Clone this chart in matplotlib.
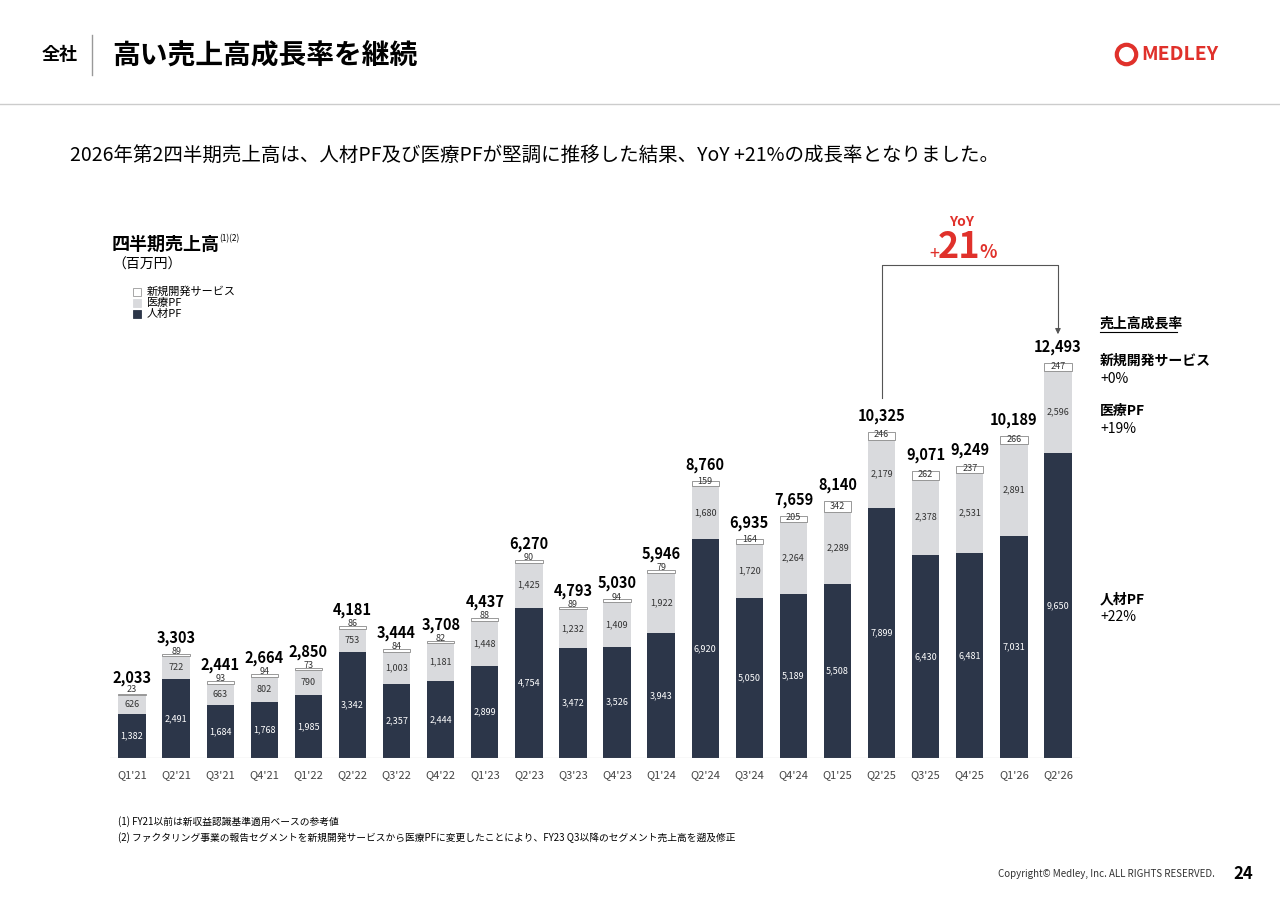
import matplotlib
matplotlib.use("Agg")
import matplotlib.pyplot as plt
from matplotlib.patches import Rectangle

plt.rcParams['font.family'] = ['Noto Sans CJK JP', 'DejaVu Sans']

quarters = ["Q1'21", "Q2'21", "Q3'21", "Q4'21", "Q1'22", "Q2'22", "Q3'22", "Q4'22",
            "Q1'23", "Q2'23", "Q3'23", "Q4'23", "Q1'24", "Q2'24", "Q3'24", "Q4'24",
            "Q1'25", "Q2'25", "Q3'25", "Q4'25", "Q1'26", "Q2'26"]
jinzai = [1382, 2491, 1684, 1768, 1985, 3342, 2357, 2444, 2899, 4754, 3472, 3526,
          3943, 6920, 5050, 5189, 5508, 7899, 6430, 6481, 7031, 9650]
iryo = [626, 722, 663, 802, 790, 753, 1003, 1181, 1448, 1425, 1232, 1409,
        1922, 1680, 1720, 2264, 2289, 2179, 2378, 2531, 2891, 2596]
shinki = [23, 89, 93, 94, 73, 86, 84, 82, 88, 90, 89, 94,
          79, 159, 164, 205, 342, 246, 262, 237, 266, 247]
totals = [2033, 3303, 2441, 2664, 2850, 4181, 3444, 3708, 4437, 6270, 4793, 5030,
          5946, 8760, 6935, 7659, 8140, 10325, 9071, 9249, 10189, 12493]

NAVY = "#2c3649"
GRAY = "#d9dadd"
RED = "#e0312b"
W, H = 1280, 905

fig = plt.figure(figsize=(12.8, 9.05), dpi=100)

# header
fig.text(60 / W, 1 - 55 / H, "全社", fontsize=13, fontweight="bold", ha="center", va="center")
fig.add_artist(plt.Line2D([92 / W, 92 / W], [1 - 35 / H, 1 - 75 / H], color="#999999", lw=1))
fig.text(112 / W, 1 - 55 / H, "高い売上高成長率を継続", fontsize=20, fontweight="bold", va="center")
fig.add_artist(plt.Line2D([1126 / W], [1 - 54 / H], marker="o", markersize=14, markerfacecolor="none",
                          markeredgecolor=RED, markeredgewidth=3))
fig.text(1141 / W, 1 - 54 / H, "MEDLEY", fontsize=14, fontweight="bold", color=RED, va="center")
fig.add_artist(plt.Line2D([0, 1], [1 - 104 / H, 1 - 104 / H], color="#cccccc", lw=1))
fig.text(70 / W, 1 - 155 / H, "2026年第2四半期売上高は、人材PF及び医療PFが堅調に推移した結果、YoY +21%の成長率となりました。",
         fontsize=14, va="center")

# chart
x0, x1, ybot, ytop = 110, 1080, 758, 200
ax = fig.add_axes([x0 / W, 1 - ybot / H, (x1 - x0) / W, (ybot - ytop) / H])
scale = 0.0316
ax.set_xlim(-0.5, 21.5)
ax.set_ylim(0, (ybot - ytop) / scale)
ax.axis("off")
xs = list(range(len(quarters)))
bw = 0.62
ax.bar(xs, jinzai, bw, color=NAVY)
ax.bar(xs, iryo, bw, bottom=jinzai, color=GRAY)
bott = [a + b for a, b in zip(jinzai, iryo)]
ax.bar(xs, shinki, bw, bottom=bott, color="white", edgecolor="#888888", lw=0.6)
ax.axhline(0, color="#888888", lw=0.8)
for i in xs:
    ax.text(i, jinzai[i] / 2, f"{jinzai[i]:,}", color="white", fontsize=6.5, ha="center", va="center")
    ax.text(i, jinzai[i] + iryo[i] / 2, f"{iryo[i]:,}", color="#333333", fontsize=6.5, ha="center", va="center")
    ax.text(i, bott[i] + 5 / scale, f"{shinki[i]}", color="#333333", fontsize=6.5, ha="center", va="center")
    ax.text(i, totals[i] + 16 / scale, f"{totals[i]:,}", fontsize=10.5, fontweight="bold",
            ha="center", va="center")
    ax.text(i, -12 / scale, quarters[i], fontsize=8, color="#444444", ha="center", va="top")

# YoY bracket
yb = (ybot - 265) / scale
ax.plot([17, 17, 21, 21], [(ybot - 398) / scale, yb, yb, (ybot - 330) / scale], color="#555555", lw=0.8)
ax.annotate("", xy=(21, (ybot - 337) / scale), xytext=(21, (ybot - 328) / scale),
            arrowprops=dict(arrowstyle="-|>", color="#555555", lw=0.8, mutation_scale=8))
fig.text(962 / W, 1 - 222 / H, "YoY", color=RED, fontsize=10, fontweight="bold", ha="center", va="center")
fig.text(934 / W, 1 - 254 / H, "+", color=RED, fontsize=13, ha="center", va="center")
fig.text(959 / W, 1 - 248 / H, "21", color=RED, fontsize=26, fontweight="bold", ha="center", va="center")
fig.text(988 / W, 1 - 253 / H, "%", color=RED, fontsize=13, fontweight="bold", ha="center", va="center")

# titles / legend
fig.text(112 / W, 1 - 244 / H, "四半期売上高", fontsize=13, fontweight="bold", va="center")
fig.text(219 / W, 1 - 239 / H, "(1)(2)", fontsize=6, va="center")
fig.text(112 / W, 1 - 265 / H, "（百万円）", fontsize=10, va="center")
for k, (lab, fc) in enumerate([("新規開発サービス", "white"), ("医療PF", GRAY), ("人材PF", NAVY)]):
    yy = 292 + k * 11
    fig.add_artist(Rectangle((133 / W, 1 - (yy + 4) / H), 8 / W, 8 / H, facecolor=fc,
                             edgecolor="#999999" if fc == "white" else fc, lw=0.6))
    fig.text(147 / W, 1 - yy / H, lab, fontsize=8, va="center")

# right annotations
fig.text(1100 / W, 1 - 324 / H, "売上高成長率", fontsize=10, fontweight="bold", va="center")
fig.add_artist(plt.Line2D([1100 / W, 1177 / W], [1 - 332 / H, 1 - 332 / H], color="black", lw=0.8))
for lab, val, yy in [("新規開発サービス", "+0%", 361), ("医療PF", "+19%", 411), ("人材PF", "+22%", 599)]:
    fig.text(1100 / W, 1 - yy / H, lab, fontsize=10, fontweight="bold", va="center")
    fig.text(1100 / W, 1 - (yy + 18) / H, val, fontsize=10, va="center")

# footnotes
fig.text(118 / W, 1 - 822 / H, "(1) FY21以前は新収益認識基準適用ベースの参考値", fontsize=7, va="center")
fig.text(118 / W, 1 - 838 / H, "(2) ファクタリング事業の報告セグメントを新規開発サービスから医療PFに変更したことにより、FY23 Q3以降のセグメント売上高を遡及修正",
         fontsize=7, va="center")
fig.text(1215 / W, 1 - 874 / H, "Copyright© Medley, Inc. ALL RIGHTS RESERVED.", fontsize=7, ha="right", va="center", color="#333333")
fig.text(1243 / W, 1 - 874 / H, "24", fontsize=12, fontweight="bold", ha="center", va="center")

fig.savefig("out.png", dpi=100)
